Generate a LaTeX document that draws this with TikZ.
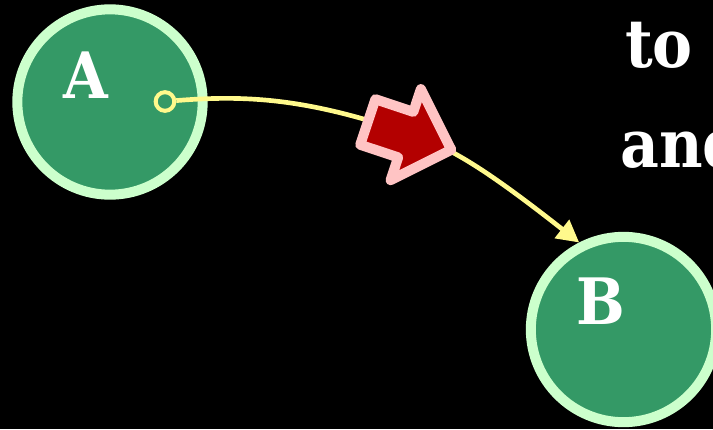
\documentclass[tikz,border=0pt]{standalone}
\usepackage{fontspec}
\setmainfont{DejaVu Serif}[FakeStretch=0.9]
\usetikzlibrary{arrows.meta,shapes.arrows}

\definecolor{nodegreen}{HTML}{349966}
\definecolor{nodeline}{HTML}{CCFFCC}
\definecolor{linkyellow}{HTML}{FFF98C}
\definecolor{flowred}{HTML}{B30000}
\definecolor{flowpink}{HTML}{FFC4C4}

\begin{document}
\begin{tikzpicture}[x=0.75pt, y=-0.75pt,
	vertex/.style={ circle, draw=nodeline, line width=7.5pt, fill=nodegreen, inner sep=0pt, minimum size=139pt },
	port/.style={ circle, draw=linkyellow, line width=3pt, inner sep=0pt, minimum size=14pt },
	link/.style={ draw=linkyellow, line width=3.5pt, -{Triangle[length=16.5pt,width=17pt]} },
	flow/.style={ single arrow, draw=flowpink, fill=flowred, line width=7.5pt, line join=round, inner xsep=0pt, inner ysep=14.25pt, minimum height=66pt, single arrow head extend=18pt },
	letter/.style={ text=white, font=\fontsize{48}{58}\selectfont\bfseries },
	words/.style={ text=white, font=\fontsize{50}{60}\selectfont\bfseries, anchor=base west, inner sep=0pt }
]

\useasboundingbox (0,0) rectangle (713,429);
\fill[black] (0,0) rectangle (713,429);
\clip (0,0) rectangle (713,429);

\node at (110,102) (A) [vertex] {};
\node at (86,75.5) (lblA) [letter] {A};
\node at (165,101.5) (pa) [port] {};

\node at (623.5,329.5) (B) [vertex] {};
\node at (600.5,301) (lblB) [letter] {B};

\coordinate (mid) at (405,132);
\draw[link] (pa) .. controls (245,95) and (305,98) .. (mid)
	.. controls (445,145.6) and (475,160.6) .. (B.117);

\node at (458,152) (push) [flow, rotate=-18.4, anchor=tip] {};

\node at (625,67) (w1) [words] {to};
\node at (620,167) (w2) [words] {and};

\end{tikzpicture}
\end{document}
